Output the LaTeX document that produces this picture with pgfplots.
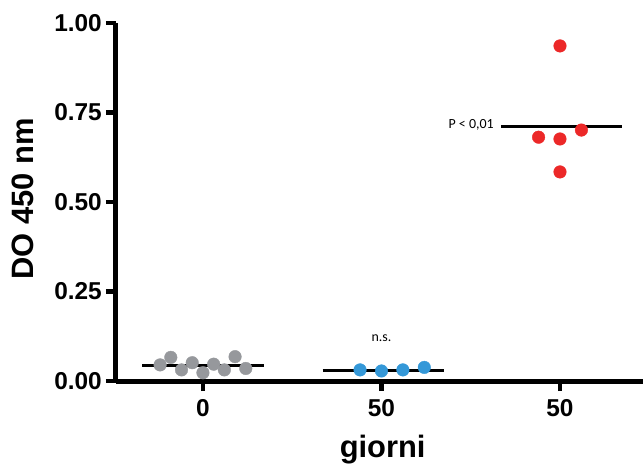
\documentclass[border=0pt]{standalone}
\usepackage{pgfplots}
\pgfplotsset{compat=1.18}
\usetikzlibrary{calc}
\usepackage{fontspec}
\setmainfont{Liberation Sans}
\newfontfamily\calib{Carlito}
\definecolor{cgray}{RGB}{150,152,156}
\definecolor{cblue}{RGB}{52,152,216}
\definecolor{cred}{RGB}{236,40,40}
\begin{document}
\begin{tikzpicture}
\begin{axis}[
  name=ax,
  scale only axis,
  width=527bp, height=358bp,
  xmin=-0.487, xmax=2.465,
  ymin=0, ymax=1,
  clip=false,
  axis x line=bottom, axis y line=left,
  axis line style={-, line width=5bp},
  tick align=outside,
  major tick length=10bp,
  tick style={line width=4.5bp, black},
  xtick={0,1,2}, xticklabels={0,50,50},
  ytick={0,0.25,0.5,0.75,1}, yticklabels={0.00,0.25,0.50,0.75,1.00},
  tick label style={font=\fontsize{24.5}{24.5}\selectfont\bfseries},
  yticklabel style={inner sep=1pt, xshift=-3bp},
  xticklabel style={inner sep=2pt, yshift=-6bp},
  xlabel={giorni}, ylabel={DO 450 nm},
  label style={font=\fontsize{31}{31}\selectfont\bfseries},
  xlabel style={at={(axis description cs:0.506,0)}, anchor=base, yshift=-76bp},
  ylabel style={at={(axis description cs:-0.176,0.508)}, anchor=center},
]
% means
\addplot[black, line width=3bp] coordinates {(-0.34,0.042) (0.34,0.042)};
\addplot[black, line width=3bp] coordinates {(0.67,0.030) (1.35,0.030)};
\addplot[black, line width=3bp] coordinates {(1.67,0.712) (2.35,0.712)};
% points
\addplot[only marks, mark=*, mark size=6.3bp, cgray, mark options={draw=cgray, fill=cgray}] coordinates {
(-0.24,0.045) (-0.18,0.066) (-0.12,0.031) (-0.06,0.051) (0,0.023) (0.06,0.047) (0.12,0.031) (0.18,0.068) (0.24,0.035)};
\addplot[only marks, mark=*, mark size=6.3bp, cblue, mark options={draw=cblue, fill=cblue}] coordinates {
(0.88,0.031) (1.0,0.028) (1.12,0.031) (1.24,0.038)};
\addplot[only marks, mark=*, mark size=6.3bp, cred, mark options={draw=cred, fill=cred}] coordinates {
(2.0,0.936) (1.88,0.681) (2.0,0.676) (2.12,0.701) (2.0,0.584)};
\node[anchor=east, font=\calib\fontsize{14}{14}\selectfont, inner sep=0pt] at (axis cs:1.63,0.715) {P < 0,01};
\node[anchor=center, font=\calib\fontsize{14}{14}\selectfont, inner sep=0pt] at (axis cs:1.0,0.12) {n.s.};
\end{axis}
\pgfresetboundingbox
\path[use as bounding box] ($(ax.south west)+(-116bp,-83bp)$) rectangle ($(ax.north east)+(0bp,23bp)$);
\end{tikzpicture}
\end{document}
